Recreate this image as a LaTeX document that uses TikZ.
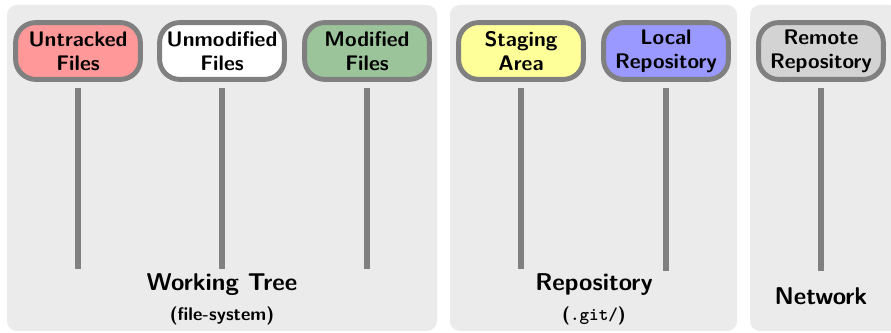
\documentclass[tikz,border=0pt]{standalone}
\usepackage{tikz}
\usetikzlibrary{positioning}
\definecolor{panel_bg}{HTML}{EBEBEB}
\definecolor{stage_border}{HTML}{808080}
\definecolor{untracked_fill}{HTML}{FF9999}
\definecolor{modified_fill}{HTML}{9BC49B}
\definecolor{staging_fill}{HTML}{FFFF99}
\definecolor{local_fill}{HTML}{9999FF}
\definecolor{remote_fill}{HTML}{D3D3D3}

\begin{document}
\begin{tikzpicture}[
    % stili per le aree e gli stati
    panel/.style = {
        fill=panel_bg,
        rounded corners=0.25cm
    },
    stage_box/.style = {
        draw=stage_border,
        line width=3.5pt,
        rounded corners=0.5cm,
        minimum width=3.12cm,
        minimum height=1.42cm,
        inner sep=1pt,
        align=center,
        font=\fontsize{15}{17}\selectfont\sffamily\bfseries
    },
    life_line/.style = {
        draw=stage_border,
        line width=4.5pt,
        shorten <=0.15cm
    },
    area_label/.style = {
        font=\LARGE\sffamily\bfseries
    },
    area_sub/.style = {
        font=\fontsize{13}{15}\selectfont\sffamily\bfseries,
        inner sep=1pt
    }
]

\useasboundingbox (0, 0) rectangle (22.275, 8.325);

% 1. Aree di sfondo
\fill[panel] (0.175, 0.05) rectangle (10.925, 8.2);
\fill[panel] (11.25, 0.05) rectangle (18.425, 8.2);
\fill[panel] (18.75, 0.05) rectangle (22.5, 8.2);

% 2. Stati dei file
\node[stage_box, fill=untracked_fill] (untracked) at (1.95, 7.05) {Untracked\\Files};
\node[stage_box, fill=white] (unmodified) at (5.55, 7.05) {Unmodified\\Files};
\node[stage_box, fill=modified_fill] (modified) at (9.175, 7.05) {Modified\\Files};
\node[stage_box, fill=staging_fill] (staging) at (13.025, 7.05) {Staging\\Area};
\node[stage_box, fill=local_fill] (local) at (16.65, 7.05) {Local\\Repository};
\node[stage_box, fill=remote_fill] (remote) at (20.525, 7.05) {Remote\\Repository};

% 3. Linee verticali
\coordinate (untracked_end) at (1.95, 1.6);
\coordinate (unmodified_end) at (5.55, 1.6);
\coordinate (modified_end) at (9.175, 1.6);
\coordinate (staging_end) at (13.025, 1.6);
\coordinate (local_end) at (16.65, 1.55);
\coordinate (remote_end) at (20.525, 1.55);
\draw[life_line] (untracked) -- (untracked_end);
\draw[life_line] (unmodified) -- (unmodified_end);
\draw[life_line] (modified) -- (modified_end);
\draw[life_line] (staging) -- (staging_end);
\draw[life_line] (local) -- (local_end);
\draw[life_line] (remote) -- (remote_end);

% 4. Etichette delle aree
\node[area_label] (working_tree) at (5.55, 1.2) {Working Tree};
\node[area_sub, below=3pt of working_tree] (file_system) {(file-system)};
\node[area_label] (repository) at (14.85, 1.2) {Repository};
\node[area_sub, below=3pt of repository] (git_dir) {(\texttt{.git/})};
\node[area_label] (network) at (20.525, 0.92) {Network};

\end{tikzpicture}
\end{document}
